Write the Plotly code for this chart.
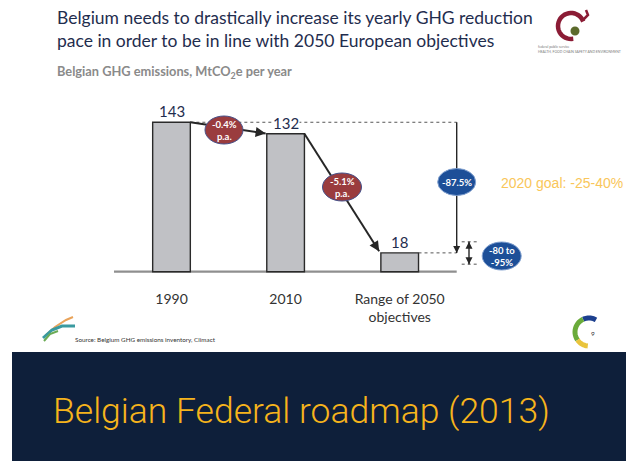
import numpy as np
import plotly.graph_objects as go

W, H = 631, 461

# ---------------- data ----------------
categories = ["1990", "2010", "Range of 2050<br>objectives"]
emissions = [143, 132, 18]
rate_labels = ["-0.4%<br>p.a.", "-5.1%<br>p.a."]
total_reduction_label = "-87.5%"
range_label = "-80 to<br>-95%"
range_bounds = [28.6, 7.2]
goal_2020_label = "2020 goal: -25-40%"

title_lines = ["Belgium needs to drastically increase its yearly GHG reduction",
               "pace in order to be in line with 2050 European objectives"]
subtitle = "Belgian GHG emissions, MtCO<sub>2</sub>e per year"
source_note = "Source: Belgium GHG emissions inventory, Climact"
band_title = "Belgian Federal roadmap (2013)"
page_number = "9"

# ---------------- geometry ----------------
X0, DX = 171.5, 114.1      # pixel x of first category, category spacing
Y0, DY = 271.7, 1.045      # pixel y of zero, pixels per MtCO2e
x_range = [(0 - X0) / DX, (W - X0) / DX]
y_range = [(Y0 - H) / DY, Y0 / DY]
BAR_W = 0.33
xs = list(range(len(categories)))
X_ARROW = (456.7 - X0) / DX
X_RANGE_ARROW = (469 - X0) / DX

NAVY = "#1f2d4e"
LATO = "Lato, 'Open Sans', sans-serif"


def pp(x, y):
    return x / W, 1 - y / H


def path(points, close=False):
    s = ""
    for i, (x, y) in enumerate(points):
        px_, py_ = pp(x, y)
        s += ("M" if i == 0 else "L") + f"{px_:.5f},{py_:.5f} "
    return s + ("Z" if close else "")


def arc_points(cx, cy, r, a0, a1, n=30):
    t = np.radians(np.linspace(a0, a1, n))
    return list(zip(cx + r * np.cos(t), cy - r * np.sin(t)))


fig = go.Figure()
fig.add_trace(go.Bar(
    x=xs, y=emissions, width=BAR_W,
    marker=dict(color="#c0c1c5", line=dict(color="#2a2a2a", width=1.4)),
    hoverinfo="skip", showlegend=False,
))

shapes = []
annotations = []
# baseline
shapes.append(dict(type="line", xref="x", yref="y", x0=-0.504, x1=X_ARROW, y0=0, y1=0,
                   line=dict(color="#8f8f8f", width=2.2), layer="below"))
# dotted reference lines
dot = dict(color="#555555", width=1, dash="dot")
shapes.append(dict(type="line", xref="x", yref="y", x0=xs[0] + BAR_W / 2, x1=X_ARROW,
                   y0=emissions[0], y1=emissions[0], line=dot))
shapes.append(dict(type="line", xref="x", yref="y", x0=xs[2] + BAR_W / 2, x1=X_ARROW,
                   y0=emissions[2], y1=emissions[2], line=dot))
for b in range_bounds:
    shapes.append(dict(type="line", xref="x", yref="y", x0=(461.7 - X0) / DX, x1=(476.7 - X0) / DX,
                       y0=b, y1=b, line=dot))


def arrow(xt, yt, xh, yh, width, color="#262626", both=False, head_px=9):
    """Line as a shape (so bubbles can cover it) + small annotation arrowheads."""
    dxp = (xh - xt) * DX
    dyp = -(yh - yt) * DY
    L = np.hypot(dxp, dyp)
    ux, uy = dxp / L, dyp / L
    shapes.append(dict(type="line", xref="x", yref="y", x0=xt, y0=yt, x1=xh, y1=yh,
                       line=dict(color=color, width=width), layer="above"))
    ends = [(xh, yh, -ux, -uy)]
    if both:
        ends.append((xt, yt, ux, uy))
    for ex, ey, vx, vy in ends:
        annotations.append(dict(x=ex, y=ey, xref="x", yref="y", ax=vx * head_px, ay=vy * head_px,
                                text="", showarrow=True, arrowhead=2, arrowsize=1,
                                arrowwidth=width, arrowcolor=color, standoff=0))


arrow(xs[0] + BAR_W / 2, emissions[0], xs[1] - BAR_W / 2 - 0.01, emissions[1] + 0.3, 2)
arrow(xs[1] + BAR_W / 2, emissions[1], xs[2] - BAR_W / 2 - 0.015, emissions[2] + 1.5, 2)
arrow(X_ARROW, emissions[0], X_ARROW, emissions[2], 1.4)
arrow(X_RANGE_ARROW, range_bounds[0], X_RANGE_ARROW, range_bounds[1], 1.4, both=True, head_px=7)


def ellipse(cx, cy, rx, ry, fill, edge):
    return dict(type="circle", xref="x", yref="y",
                x0=cx - rx / DX, x1=cx + rx / DX, y0=cy - ry / DY, y1=cy + ry / DY,
                fillcolor=fill, line=dict(color=edge, width=1), layer="above")


RED, RED_EDGE = "#9a3c3e", "#44508a"
BLUE, BLUE_EDGE = "#1d4f98", "#7f9fcf"
bubble_pos = [
    ((224 - X0) / DX, (Y0 - 130) / DY, 19, 14, RED, RED_EDGE, rate_labels[0]),
    ((342 - X0) / DX, (Y0 - 187) / DY, 19.5, 14, RED, RED_EDGE, rate_labels[1]),
    (X_ARROW, (Y0 - 182) / DY, 19, 13.5, BLUE, BLUE_EDGE, total_reduction_label),
    ((501.7 - X0) / DX, (Y0 - 256) / DY, 19.5, 14, BLUE, BLUE_EDGE, range_label),
]
for cx, cy, rx, ry, fill, edge, lab in bubble_pos:
    shapes.append(ellipse(cx, cy, rx, ry, fill, edge))
    annotations.append(dict(x=cx, y=cy, xref="x", yref="y", text=f"<b>{lab}</b>",
                            showarrow=False, font=dict(family=LATO, size=9.5, color="white")))

# value labels
for x, v in zip(xs, emissions):
    annotations.append(dict(x=x, y=v, xref="x", yref="y", text=str(v), showarrow=False,
                            yanchor="bottom", yshift=1, bgcolor="white", borderpad=0,
                            font=dict(family=LATO, size=15, color=NAVY)))

# 2020 goal
annotations.append(dict(x=(499 - X0) / DX, y=(Y0 - 183) / DY, xref="x", yref="y",
                        xanchor="left", text=goal_2020_label, showarrow=False,
                        font=dict(family="'Liberation Sans', Arial, sans-serif", size=14,
                                  color="#f9c65a")))

# titles
for i, line in enumerate(title_lines):
    x, y = pp(55, 17 + 23 * i)
    annotations.append(dict(x=x, y=y, xref="paper", yref="paper", xanchor="left",
                            yanchor="middle", text=line, showarrow=False,
                            font=dict(family=LATO, size=17.5, color=NAVY)))
x, y = pp(55, 72)
annotations.append(dict(x=x, y=y, xref="paper", yref="paper", xanchor="left", yanchor="middle",
                        text=f"<b>{subtitle}</b>", showarrow=False,
                        font=dict(family=LATO, size=12.8, color="#8a8a8a")))
x, y = pp(73, 339)
annotations.append(dict(x=x, y=y, xref="paper", yref="paper", xanchor="left", yanchor="middle",
                        text=source_note, showarrow=False,
                        font=dict(family=LATO, size=6.3, color="#333333")))
x, y = pp(593, 333)
annotations.append(dict(x=x, y=y, xref="paper", yref="paper", xanchor="center", yanchor="middle",
                        text=page_number, showarrow=False,
                        font=dict(family=LATO, size=6.5, color="#333333")))

# logo text (top right)
for txt, yy in [("federal public service", 47.5),
                ("HEALTH, FOOD CHAIN SAFETY AND ENVIRONMENT", 52.5)]:
    x, y = pp(536, yy)
    annotations.append(dict(x=x, y=y, xref="paper", yref="paper", xanchor="left", yanchor="middle",
                            text=txt, showarrow=False,
                            font=dict(family=LATO, size=3.4, color="#777777")))

# band
x0, y1 = pp(12, 352)
x1, _ = pp(626, 461)
shapes.append(dict(type="rect", xref="paper", yref="paper", x0=x0, x1=x1, y0=-0.01, y1=y1,
                   fillcolor="#0e1f3a", line=dict(width=0), layer="below"))
x, y = pp(51, 411)
annotations.append(dict(x=x, y=y, xref="paper", yref="paper", xanchor="left", yanchor="middle",
                        text=band_title, showarrow=False,
                        font=dict(family="Roboto, 'Liberation Sans', sans-serif", size=35.5,
                                  color="#f6b41c", weight=300)))

# logo swirl top right
shapes.append(dict(type="path", xref="paper", yref="paper",
                   path=path(arc_points(571, 26, 13, 20, 280)),
                   line=dict(color="#8b1c35", width=4.5)))
shapes.append(dict(type="path", xref="paper", yref="paper",
                   path=path([(583, 20), (588, 15), (586, 10)]),
                   line=dict(color="#8b1c35", width=2.5)))
cx, cy = pp(575, 31)
shapes.append(dict(type="circle", xref="paper", yref="paper",
                   x0=cx - 4.5 / W, x1=cx + 4.5 / W, y0=cy - 4.5 / H, y1=cy + 4.5 / H,
                   fillcolor="#5c6a2c", line=dict(width=0)))

# bottom left swoosh
shapes.append(dict(type="path", xref="paper", yref="paper",
                   path=path([(45, 336), (55, 327), (66, 320), (73, 317)]),
                   line=dict(color="#e9a35a", width=2)))
shapes.append(dict(type="path", xref="paper", yref="paper",
                   path=path([(43, 338), (52, 330), (62, 326), (75, 326)]),
                   line=dict(color="#3a9aa0", width=3)))
shapes.append(dict(type="path", xref="paper", yref="paper",
                   path=path([(44, 341), (50, 334), (58, 331)]),
                   line=dict(color="#6bab55", width=2)))

# bottom right ring
for a0, a1, col in [(60, 115, "#1c3f8e"), (115, 215, "#6aab3a"), (215, 265, "#e9c43c")]:
    shapes.append(dict(type="path", xref="paper", yref="paper",
                       path=path(arc_points(589, 332, 14, a0, a1, 15)),
                       line=dict(color=col, width=5)))

fig.update_layout(
    width=W, height=H,
    margin=dict(l=0, r=0, t=0, b=0),
    paper_bgcolor="white", plot_bgcolor="rgba(0,0,0,0)",
    showlegend=False,
    xaxis=dict(range=x_range, domain=[0, 1], anchor="free", position=1 - Y0 / H,
               tickvals=xs, ticktext=categories, ticks="outside", ticklen=14,
               tickcolor="rgba(0,0,0,0)", showgrid=False, zeroline=False, showline=False,
               tickfont=dict(family=LATO, size=14, color="#333333"), fixedrange=True),
    yaxis=dict(range=y_range, domain=[0, 1], visible=False, showgrid=False, zeroline=False,
               fixedrange=True),
    shapes=shapes,
    annotations=annotations,
)

fig.write_html("out.html", config={"displayModeBar": False},
               post_script="document.body.style.margin='0px';")
